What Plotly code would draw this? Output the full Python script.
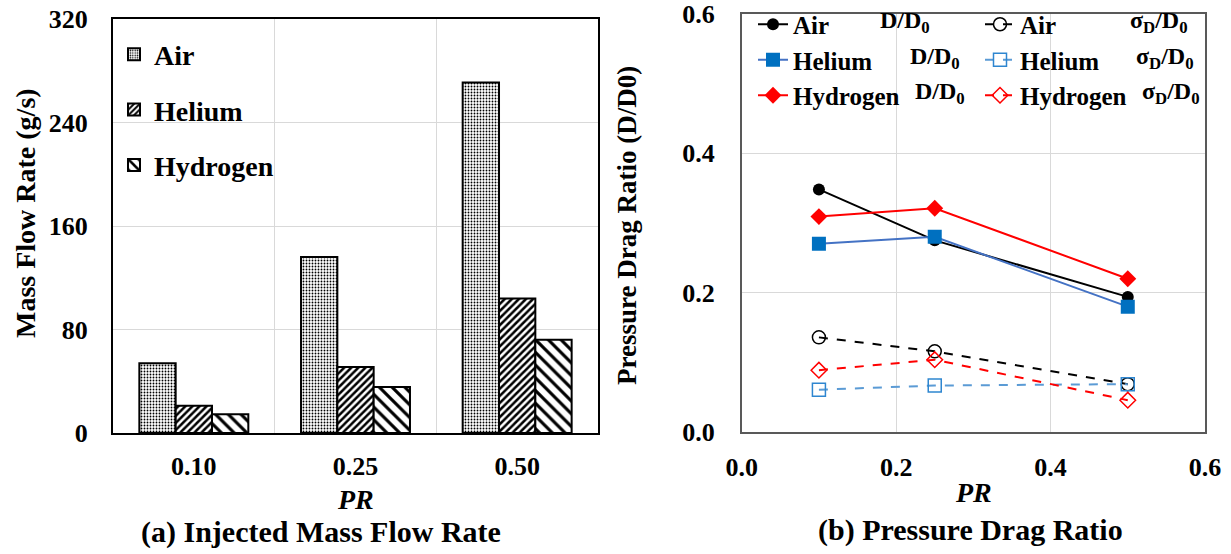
import plotly.graph_objects as go

W, H = 1231, 554
FONT = "Liberation Serif"

# ---------------- data ----------------
pr_categories = ["0.10", "0.25", "0.50"]
air_flow = [54, 136, 271]
helium_flow = [21, 51, 104]
hydrogen_flow = [14.5, 35.5, 72]

pr_values = [0.1, 0.25, 0.5]
air_d = [0.348, 0.275, 0.194]
helium_d = [0.270, 0.280, 0.180]
hydrogen_d = [0.309, 0.321, 0.220]
air_sigma = [0.136, 0.116, 0.069]
helium_sigma = [0.061, 0.067, 0.069]
hydrogen_sigma = [0.089, 0.104, 0.046]

y_ticks_left = [0, 80, 160, 240, 320]
ticks_right = [0.0, 0.2, 0.4, 0.6]


def px(x):
    return x / W


def py(y):
    return 1 - y / H


fig = go.Figure()

bar_line = dict(color="black", width=2)
fig.add_trace(go.Bar(x=pr_categories, y=air_flow, name="Air", legend="legend", legendgroup="a",
                     marker=dict(color="white", line=bar_line,
                                 pattern=dict(shape=".", fgcolor="black", bgcolor="white", size=3, solidity=0.3)),
                     xaxis="x", yaxis="y"))
fig.add_trace(go.Bar(x=pr_categories, y=helium_flow, name="Helium", legend="legend", legendgroup="b",
                     marker=dict(color="white", line=bar_line,
                                 pattern=dict(shape="/", fgcolor="black", bgcolor="white", size=5, solidity=0.5)),
                     xaxis="x", yaxis="y"))
fig.add_trace(go.Bar(x=pr_categories, y=hydrogen_flow, name="Hydrogen", legend="legend", legendgroup="c",
                     marker=dict(color="white", line=bar_line,
                                 pattern=dict(shape="\\", fgcolor="black", bgcolor="white", size=9, solidity=0.35)),
                     xaxis="x", yaxis="y"))

# right panel
fig.add_trace(go.Scatter(x=pr_values, y=air_d, name="Air", mode="lines+markers", legend="legend2", legendgroup="d1",
                         line=dict(color="black", width=2),
                         marker=dict(symbol="circle", size=12, color="black"), xaxis="x2", yaxis="y2"))
fig.add_trace(go.Scatter(x=pr_values, y=helium_d, name="Helium", mode="lines+markers", legend="legend2", legendgroup="d2",
                         line=dict(color="#4472C4", width=2),
                         marker=dict(symbol="square", size=14, color="#0070C0"), xaxis="x2", yaxis="y2"))
fig.add_trace(go.Scatter(x=pr_values, y=hydrogen_d, name="Hydrogen", mode="lines+markers", legend="legend2", legendgroup="d3",
                         line=dict(color="#FF0000", width=2),
                         marker=dict(symbol="diamond", size=13, color="#FF0000"), xaxis="x2", yaxis="y2"))
fig.add_trace(go.Scatter(x=pr_values, y=air_sigma, name="Air", mode="lines+markers", legend="legend3", legendgroup="s1",
                         line=dict(color="black", width=2, dash="dash"),
                         marker=dict(symbol="circle-open", size=13, color="black", line=dict(width=1.5)), xaxis="x2", yaxis="y2"))
fig.add_trace(go.Scatter(x=pr_values, y=helium_sigma, name="Helium", mode="lines+markers", legend="legend3", legendgroup="s2",
                         line=dict(color="#5B9BD5", width=2, dash="dash"),
                         marker=dict(symbol="square-open", size=13, color="#2E86D0", line=dict(width=1.5)), xaxis="x2", yaxis="y2"))
fig.add_trace(go.Scatter(x=pr_values, y=hydrogen_sigma, name="Hydrogen", mode="lines+markers", legend="legend3", legendgroup="s3",
                         line=dict(color="#FF0000", width=2, dash="dash"),
                         marker=dict(symbol="diamond-open", size=12, color="#FF0000", line=dict(width=1.5)), xaxis="x2", yaxis="y2"))

tick_font = dict(family=FONT, size=26, color="black", weight="bold")
leg_font_left = dict(family=FONT, size=28, color="black", weight="bold")
leg_font = dict(family=FONT, size=25, color="black", weight="bold")

fig.update_layout(
    template="none",
    width=W, height=H,
    margin=dict(l=0, r=0, t=0, b=0),
    paper_bgcolor="white", plot_bgcolor="white",
    barmode="group", bargap=0.326, bargroupgap=0,
    font=dict(family=FONT, color="black"),
    xaxis=dict(domain=[px(113), px(598)], anchor="y", type="category",
               showline=True, mirror=True, linecolor="black", linewidth=2,
               showgrid=True, gridcolor="#d9d9d9", gridwidth=1, tickson="boundaries",
               ticks="", tickfont=tick_font, ticklabelstandoff=9, automargin=False, zeroline=False,
               ticklabeloverflow="allow"),
    yaxis=dict(domain=[py(433), py(19)], anchor="x", range=[0, 320], tickvals=y_ticks_left,
               showline=True, mirror=True, linecolor="black", linewidth=2,
               showgrid=True, gridcolor="#d9d9d9", gridwidth=1,
               ticks="", tickfont=tick_font, ticklabelstandoff=18, automargin=False, zeroline=False,
               ticklabeloverflow="allow"),
    xaxis2=dict(domain=[px(741.7), px(1205)], anchor="y2", range=[0, 0.6], tickvals=ticks_right, tickformat=".1f",
                showline=True, mirror=True, linecolor="#595959", linewidth=1.5,
                showgrid=True, gridcolor="#d9d9d9", gridwidth=1,
                ticks="", tickfont=tick_font, ticklabelstandoff=11, automargin=False, zeroline=False,
                ticklabeloverflow="allow"),
    yaxis2=dict(domain=[py(432.3), py(13.5)], anchor="x2", range=[0, 0.6], tickvals=ticks_right, tickformat=".1f",
                showline=True, mirror=True, linecolor="#595959", linewidth=1.5,
                showgrid=True, gridcolor="#d9d9d9", gridwidth=1,
                ticks="", tickfont=tick_font, ticklabelstandoff=20, automargin=False, zeroline=False,
                ticklabeloverflow="allow"),
    legend=dict(x=px(114), y=py(29.5), xanchor="left", yanchor="top", bgcolor="rgba(0,0,0,0)",
                font=leg_font_left, traceorder="grouped", tracegroupgap=16, borderwidth=0),
    legend2=dict(x=px(753), y=py(1.5), xanchor="left", yanchor="top", bgcolor="rgba(0,0,0,0)",
                 font=leg_font, traceorder="grouped", tracegroupgap=0, borderwidth=0),
    legend3=dict(x=px(980), y=py(1.5), xanchor="left", yanchor="top", bgcolor="rgba(0,0,0,0)",
                 font=leg_font, traceorder="grouped", tracegroupgap=0, borderwidth=0),
)

ann_font = dict(family=FONT, size=28, color="black", weight="bold")
cap_font = dict(family=FONT, size=30, color="black", weight="bold")
annotations = [
    dict(text="Mass Flow Rate (g/s)", x=px(25), y=py(213), textangle=-90, font=ann_font),
    dict(text="Pressure Drag Ratio (D/D0)", x=px(627), y=py(225), textangle=-90, font=dict(ann_font, size=27)),
    dict(text="<i>PR</i>", x=px(355), y=py(500), font=ann_font),
    dict(text="<i>PR</i>", x=px(973), y=py(492), font=ann_font),
    dict(text="(a) Injected Mass Flow Rate", x=px(321), y=py(532), font=cap_font),
    dict(text="(b) Pressure Drag Ratio", x=px(970), y=py(530), font=cap_font),
]
# legend suffix labels
suffix = [("D/D<sub>0</sub>", 878, 22), ("D/D<sub>0</sub>", 908, 58), ("D/D<sub>0</sub>", 913, 93),
          ("σ<sub>D</sub>/D<sub>0</sub>", 1128, 22), ("σ<sub>D</sub>/D<sub>0</sub>", 1134, 58),
          ("σ<sub>D</sub>/D<sub>0</sub>", 1140, 93)]
for t, x, y in suffix:
    annotations.append(dict(text=t, x=px(x), y=py(y), xanchor="left", yanchor="middle",
                            font=dict(family=FONT, size=24, color="black", weight="bold")))

for a in annotations:
    a.setdefault("xref", "paper")
    a.setdefault("yref", "paper")
    a.setdefault("showarrow", False)
    a.setdefault("xanchor", "center")
    a.setdefault("yanchor", "middle")
fig.update_layout(annotations=annotations)

fig.write_html("out.html", config={"displayModeBar": False},
               post_script="document.body.style.margin='0';document.body.style.padding='0';")
